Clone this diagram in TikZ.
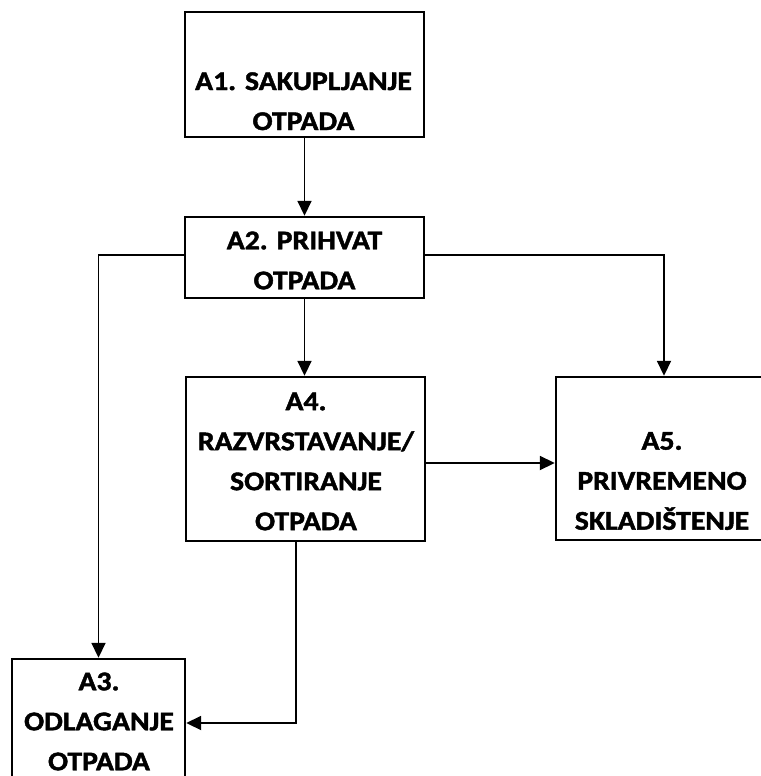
\documentclass[tikz,border=0pt]{standalone}
\usepackage{fontspec}
\setmainfont{Carlito}[FakeStretch=1.1,BoldFeatures={FakeBold=1.6}]
\usepackage{tikz}
\usetikzlibrary{positioning,arrows.meta}

\begin{document}
\begin{tikzpicture}[x=1pt,y=-1pt,
		box/.style={shape=rectangle,draw,line width=2.4pt,inner sep=0pt,fill=white},
		lbl/.style={align=center,inner sep=0pt,font={\fontsize{27}{40}\selectfont\bfseries}},
		arr/.style={line width=1.8pt,-{Triangle[length=15pt,width=14pt]}}]
		\useasboundingbox (0,0) rectangle (760,776);
		% boxes
		\node(a1) [box,minimum width=239pt,minimum height=125pt] at (304.5,74.5) {};
		\node(a2) [box,minimum width=239pt,minimum height=81pt] at (304.5,257.5) {};
		\node(a4) [box,minimum width=239pt,minimum height=164pt] at (305.5,459) {};
		\node(a5) [box,minimum width=216pt,minimum height=163pt] at (664,458.5) {};
		\node(a3) [box,minimum width=173pt,minimum height=128pt] at (98.5,723) {};
		% texts
		\node(t1) [lbl] at (303.5,101.25) {A1. SAKUPLJANJE\\OTPADA};
		\node(t2) [lbl] at (304.5,260.5) {A2. PRIHVAT\\OTPADA};
		\node(t4) [lbl] at (306,461.5) {A4.\\RAZVRSTAVANJE/\\SORTIRANJE\\OTPADA};
		\node(t5) [lbl] at (662,481) {A5.\\PRIVREMENO\\SKLADIŠTENJE};
		\node(t3) [lbl] at (99,721.5) {A3.\\ODLAGANJE\\OTPADA};
		% arrows
		\draw [arr] (a1.south) -- (a2.north);
		\draw [arr] (a2.south) -- (a2.south |- a4.north);
		\draw [arr] ([yshift=2.5pt]a2.west) -| (a3.north);
		\draw [arr] ([yshift=2.5pt]a2.east) -| (a5.north);
		\draw [arr] ([yshift=-4pt]a4.east) -- ([yshift=-4pt]a4.east -| a5.west);
		\draw [arr] ([xshift=-9.5pt]a4.south) |- (a3.east);
	\end{tikzpicture}
\end{document}
